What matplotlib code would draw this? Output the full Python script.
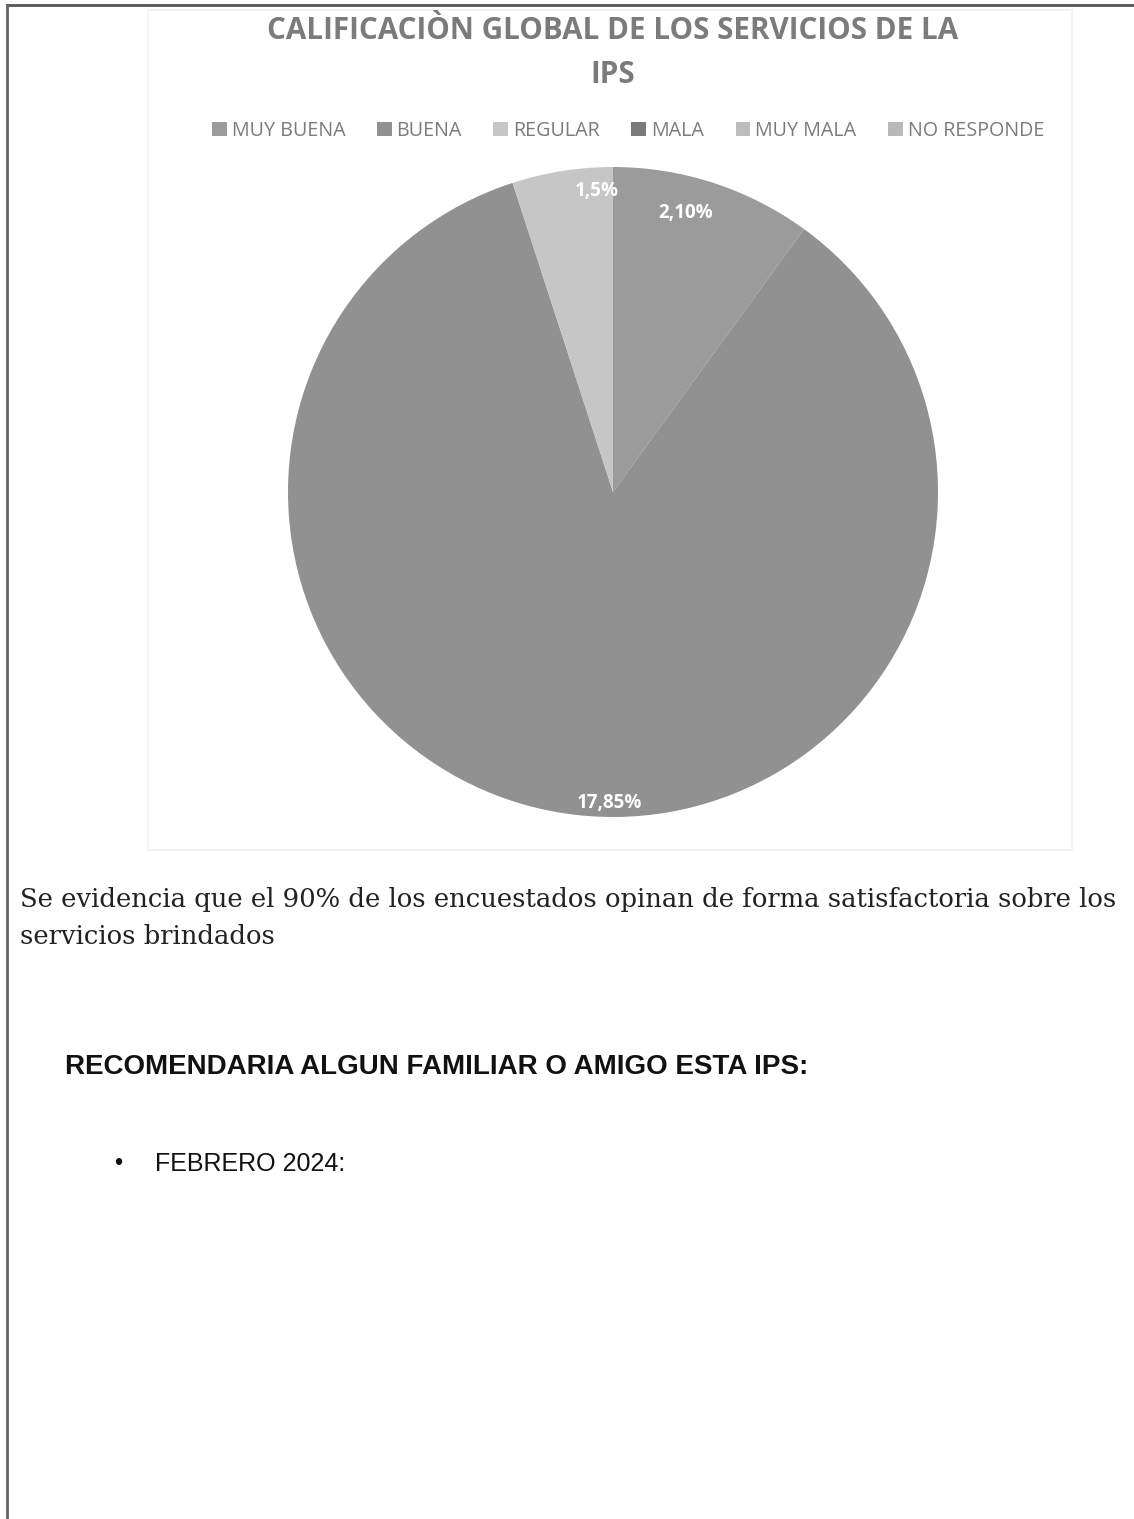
import matplotlib.pyplot as plt
import numpy as np
from matplotlib.patches import Rectangle

# datos de la encuesta
categorias = ['MUY BUENA', 'BUENA', 'REGULAR', 'MALA', 'MUY MALA', 'NO RESPONDE']
cantidades = [2, 17, 1, 0, 0, 0]
porcentajes = [10, 85, 5, 0, 0, 0]
colores = ['#9b9b9b', '#919191', '#c6c6c6', '#7a7a7a', '#bdbdbd', '#b9b9b9']

titulo = 'CALIFICACIÒN GLOBAL DE LOS SERVICIOS DE LA\nIPS'
texto1 = 'Se evidencia que el 90% de los encuestados opinan de forma satisfactoria sobre los'
texto2 = 'servicios brindados'
subtitulo = 'RECOMENDARIA ALGUN FAMILIAR O AMIGO ESTA IPS:'
item = 'FEBRERO 2024:'

W, H = 1134, 1519
fig = plt.figure(figsize=(W / 100, H / 100), dpi=100)
fig.patch.set_facecolor('white')

def fx(px):
    return px / W

def fy(py):
    return 1 - py / H

# borde de la pagina y area del grafico
bg = fig.add_axes([0, 0, 1, 1])
bg.set_xlim(0, W)
bg.set_ylim(H, 0)
bg.axis('off')
bg.plot([7, W], [5, 5], color='#555555', lw=2)
bg.plot([7, 7], [5, H], color='#666666', lw=2)
bg.add_patch(Rectangle((148, 10), 924, 840, fill=False, ec='#f2f2f2', lw=1.2))

# pastel
cx, cy, r = 613, 492, 325
ax = fig.add_axes([fx(cx - r), fy(cy + r), 2 * r / W, 2 * r / H])
vals = [c for c in cantidades if c > 0]
cols = [colores[i] for i, c in enumerate(cantidades) if c > 0]
labs = ['%d,%d%%' % (c, p) for c, p in zip(cantidades, porcentajes) if c > 0]
wedges, _ = ax.pie(vals, colors=cols, startangle=90, counterclock=False,
                   radius=1, wedgeprops=dict(linewidth=0))
ax.set_xlim(-1, 1)
ax.set_ylim(-1, 1)
ax.set_aspect('auto')

# posiciones de etiquetas (ajuste tipo "extremo interno" de Excel)
ajuste = [(3.5, 0.886), (8.3, 0.957), (-6, 0.926)]
for w, lab, (da, dist) in zip(wedges, labs, ajuste):
    ang = np.deg2rad((w.theta1 + w.theta2) / 2 + da)
    ax.text(dist * np.cos(ang), dist * np.sin(ang), lab, ha='center', va='center',
            color='white', fontsize=13.5, fontweight='bold', family='Open Sans')

# titulo
fig.text(fx(613), fy(53), titulo, ha='center', va='center', color='#7b7b7b',
         fontsize=21.3, fontweight='bold', family='Open Sans', linespacing=1.6)

# leyenda
handles = [Rectangle((0, 0), 1, 1, fc=c, ec='none') for c in colores]
leg = fig.legend(handles, categorias, loc='center', bbox_to_anchor=(fx(628), fy(131)),
                 ncol=6, frameon=False, handlelength=0.75, handleheight=0.75,
                 handletextpad=0.25, columnspacing=1.6,
                 prop={'family': 'Open Sans', 'size': 14.2})
for t in leg.get_texts():
    t.set_color('#7b7b7b')

# texto inferior
fig.text(fx(20), fy(899), texto1, ha='left', va='center', color='#222222',
         fontsize=18.6, family='DejaVu Serif')
fig.text(fx(20), fy(936), texto2, ha='left', va='center', color='#222222',
         fontsize=18.6, family='DejaVu Serif')
fig.text(fx(65), fy(1067), subtitulo, ha='left', va='center', color='#111111',
         fontsize=20, fontweight='bold', family='Liberation Sans')
fig.text(fx(118), fy(1164), '•', ha='center', va='center', color='#111111',
         fontsize=17, family='Liberation Sans')
fig.text(fx(155), fy(1164), item, ha='left', va='center', color='#111111',
         fontsize=18, family='Liberation Sans')

fig.savefig('out.png', dpi=100)
